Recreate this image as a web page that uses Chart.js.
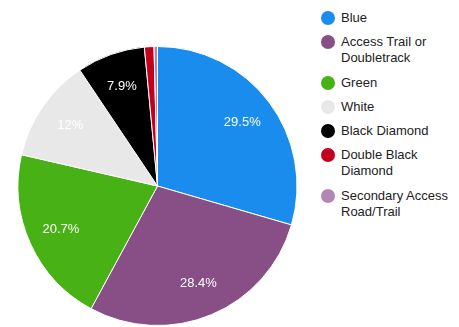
<!DOCTYPE html>
<html>
<head>
<meta charset="utf-8">
<script src="https://cdn.jsdelivr.net/npm/chart.js@4"></script>
<style>
  body { margin: 0; background: #fff; }
  #wrap { position: relative; width: 459px; height: 327px; }
  #pie { position: absolute; left: 0; top: 0; }
  #legend { position: absolute; left: 321px; top: 10px; font: 13px "Liberation Sans", Arial, sans-serif; color: #222; }
  .item { position: relative; padding-left: 20px; line-height: 16px; margin-bottom: 8.3px; }
  .dot { position: absolute; left: 0; top: 1px; width: 14px; height: 14px; border-radius: 50%; }
</style>
</head>
<body>
<div id="wrap">
  <canvas id="pie" width="320" height="327"></canvas>
  <div id="legend"></div>
</div>
<script>
const categories = ['Blue', 'Access Trail or Doubletrack', 'Green', 'White', 'Black Diamond', 'Double Black Diamond', 'Secondary Access Road/Trail'];
const legendLines = [['Blue'], ['Access Trail or', 'Doubletrack'], ['Green'], ['White'], ['Black Diamond'], ['Double Black', 'Diamond'], ['Secondary Access', 'Road/Trail']];
const shares = [29.5, 28.4, 20.7, 12, 7.9, 1.1, 0.4];
const colors = ['#1a8ced', '#874f86', '#47b116', '#e8e8e8', '#000000', '#c5001c', '#b387b3'];

// percent labels inside the bigger slices
const sliceLabels = {
    id: 'sliceLabels',
    afterDatasetsDraw(chart) {
        const ctx = chart.ctx;
        const total = shares.reduce((a, b) => a + b, 0);
        chart.getDatasetMeta(0).data.forEach(function (arc, i) {
            const pct = shares[i] / total * 100;
            if (pct < 5) return;
            const mid = (arc.startAngle + arc.endAngle) / 2;
            const r = arc.outerRadius * 0.76;
            const x = arc.x + Math.cos(mid) * r;
            const y = arc.y + Math.sin(mid) * r;
            ctx.save();
            ctx.font = '13px "Liberation Sans", Arial, sans-serif';
            ctx.fillStyle = '#ffffff';
            ctx.textAlign = 'center';
            ctx.textBaseline = 'middle';
            ctx.fillText((Math.round(pct * 10) / 10) + '%', x, y);
            ctx.restore();
        });
    }
};

new Chart(document.getElementById('pie').getContext('2d'), {
    type: 'pie',
    data: {
        labels: categories,
        datasets: [{
            data: shares,
            backgroundColor: colors,
            borderColor: '#ffffff',
            borderWidth: 1
        }]
    },
    options: {
        responsive: false,
        animation: false,
        layout: { padding: { left: 17, right: 22, top: 46, bottom: 1 } },
        plugins: {
            legend: { display: false },
            tooltip: { enabled: false }
        }
    },
    plugins: [sliceLabels]
});

// html legend
const legend = document.getElementById('legend');
categories.forEach(function (name, i) {
    const item = document.createElement('div');
    item.className = 'item';
    item.innerHTML = '<span class="dot" style="background:' + colors[i] + '"></span>' + legendLines[i].join('<br>');
    legend.appendChild(item);
});
</script>
</body>
</html>
